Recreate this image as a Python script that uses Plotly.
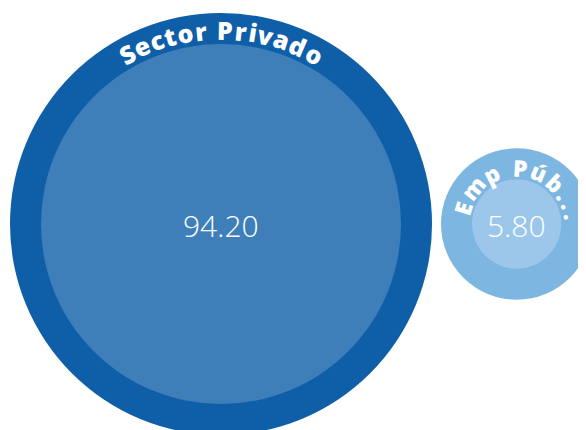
import math
import plotly.graph_objects as go

# data
labels = ["Sector Privado", "Emp Púb..."]
values = [94.20, 5.80]
value_labels = [f"{v:.2f}" for v in values]

outer_colors = ["#0f5ea8", "#7db6e1"]
inner_colors = ["#3e7fba", "#9dc7ea"]

W, H = 586, 430
PAGE_PAD = 8  # default body margin of the html page
MAX_INNER_R = 180
RING = 31
GAP = 9
LEFT = 10
CY = 224

LABEL_FONT = "Open Sans"
LABEL_SIZE = [25, 23]
TRACKING = [2.4, 4.8]
LABEL_INSET = [1, 4]  # px inward from the middle of the ring
LABEL_SHIFT = [0, 3]  # degrees, clockwise

# rough advance widths (em) for a bold sans
CHAR_W = {
    "S": .55, "e": .60, "c": .51, "t": .43, "o": .62, "r": .44, " ": .26,
    "P": .63, "i": .30, "v": .56, "a": .60, "d": .63, "E": .55, "m": .96,
    "p": .63, "ú": .64, "b": .63, ".": .29,
}

inner_r = [MAX_INNER_R * math.sqrt(v / max(values)) for v in values]
outer_r = [r + RING for r in inner_r]

centers = []
x = LEFT
for i, r in enumerate(outer_r):
    cx = x + r
    centers.append(cx)
    x = cx + r + GAP

fig = go.Figure()
shapes = []
annotations = []

for i in range(len(values)):
    cx = centers[i]
    for r, col in ((outer_r[i], outer_colors[i]), (inner_r[i], inner_colors[i])):
        shapes.append(dict(
            type="circle", xref="x", yref="y",
            x0=cx - r, x1=cx + r, y0=CY - r, y1=CY + r,
            fillcolor=col, line_width=0, layer="below",
        ))

    # value in the middle
    annotations.append(dict(
        x=cx, y=CY + 1, text=value_labels[i], showarrow=False,
        font=dict(family="Open Sans", size=30, color="white", weight=300),
        xanchor="center", yanchor="middle",
    ))

    # label bent along the ring
    fs = LABEL_SIZE[i]
    rt = inner_r[i] + RING / 2 - LABEL_INSET[i]
    adv = [CHAR_W.get(ch, .6) * fs for ch in labels[i]]
    total = sum(adv) + TRACKING[i] * (len(adv) - 1)
    pos = -total / 2
    for ch, a in zip(labels[i], adv):
        mid = pos + a / 2
        theta = mid / rt + math.radians(LABEL_SHIFT[i])
        pos += a + TRACKING[i]
        if ch == " ":
            continue
        annotations.append(dict(
            x=cx + rt * math.sin(theta), y=CY - rt * math.cos(theta),
            text=ch, showarrow=False, textangle=math.degrees(theta),
            font=dict(family=LABEL_FONT, size=fs, color="white", weight=800),
            xanchor="center", yanchor="middle",
        ))

fig.add_trace(go.Scatter(x=[0, W], y=[0, H], mode="markers",
                         marker_opacity=0, hoverinfo="skip", showlegend=False))

fig.update_layout(
    width=W, height=H,
    margin=dict(l=0, r=0, t=0, b=0),
    paper_bgcolor="white", plot_bgcolor="white",
    shapes=shapes, annotations=annotations,
    xaxis=dict(range=[PAGE_PAD, W + PAGE_PAD], visible=False, fixedrange=True),
    yaxis=dict(range=[H + PAGE_PAD, PAGE_PAD], visible=False, fixedrange=True),
    showlegend=False,
)

fig.write_html("out.html")
